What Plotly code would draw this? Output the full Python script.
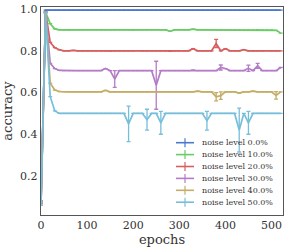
import plotly.graph_objects as go

epochs = list(range(0, 530, 10))  # 0..520

labels = ["noise level 0.0%", "noise level 10.0%", "noise level 20.0%",
          "noise level 30.0%", "noise level 40.0%", "noise level 50.0%"]
colors = ["#4878CF", "#6ACC65", "#D65F5F", "#B47CC7", "#C4AD66", "#77BEDB"]

def fill(start, base, overrides):
    vals = list(start) + [base] * (len(epochs) - len(start))
    for e, v in overrides.items():
        vals[epochs.index(e)] = v
    return vals

acc_0 = fill([0.08, 0.995], 0.995, {})
acc_10 = fill([0.08, 0.985, 0.93, 0.905], 0.90,
              {60: 0.899, 120: 0.901, 200: 0.899, 280: 0.894, 330: 0.904,
               400: 0.899, 470: 0.901, 510: 0.898, 520: 0.885})
acc_20 = fill([0.07, 0.985, 0.84, 0.815, 0.805], 0.80,
              {70: 0.802, 150: 0.799, 210: 0.801, 280: 0.798, 330: 0.81,
               380: 0.835, 400: 0.81, 440: 0.806, 490: 0.801})
acc_30 = fill([0.07, 0.985, 0.74, 0.715, 0.706], 0.705,
              {140: 0.715, 160: 0.665, 250: 0.635, 330: 0.708,
               390: 0.72, 400: 0.715, 450: 0.716, 470: 0.728, 520: 0.72})
acc_40 = fill([0.06, 0.985, 0.645, 0.612, 0.605], 0.603,
              {140: 0.61, 340: 0.607, 380: 0.58, 390: 0.585, 430: 0.597,
               460: 0.607, 510: 0.586})
acc_50 = fill([0.06, 0.98, 0.58, 0.512], 0.50,
              {190: 0.45, 230: 0.47, 260: 0.455, 360: 0.465, 430: 0.42,
               450: 0.455})

err_0 = fill([], 0.0, {})
err_10 = fill([], 0.0, {})
err_20 = fill([], 0.0, {380: 0.02})
err_30 = fill([], 0.0, {160: 0.04, 250: 0.115, 390: 0.012, 450: 0.015, 470: 0.012})
err_40 = fill([], 0.0, {380: 0.02, 390: 0.018, 510: 0.018})
err_50 = fill([], 0.0, {190: 0.085, 230: 0.05, 260: 0.055, 360: 0.045, 430: 0.105,
                        450: 0.055})

series = [acc_0, acc_10, acc_20, acc_30, acc_40, acc_50]
errors = [err_0, err_10, err_20, err_30, err_40, err_50]

fig = go.Figure()
for lab, col, ys, es in zip(labels, colors, series, errors):
    fig.add_trace(go.Scatter(
        x=epochs, y=ys, mode="lines", name=lab, showlegend=False,
        line=dict(color=col, width=1.7),
        error_y=dict(type="data", array=es, visible=True, color=col,
                     thickness=1.3, width=2),
    ))

font = "DejaVu Serif"
axis_common = dict(showgrid=False, zeroline=False, showline=True, linecolor="#555555",
                   linewidth=1.2, mirror=True, ticks="", automargin=False,
                   tickfont=dict(family=font, size=11, color="#333333"),
                   title_font=dict(family=font, size=13, color="#333333"))
fig.update_xaxes(range=[0, 525], tickvals=[0, 100, 200, 300, 400, 500],
                 title_text="epochs", title_standoff=2, **axis_common)
fig.update_yaxes(range=[0.013, 1.01], tickvals=[0.2, 0.4, 0.6, 0.8, 1.0],
                 ticktext=["0.2", "0.4", "0.6", "0.8", "1.0"],
                 title_text="accuracy", title_standoff=4, **axis_common)

# legend drawn as text + symbols, positioned in plot-area (paper) fractions
L, R, T, B = 41, 4, 7, 34
W, H = 287, 249
pw, ph = W - L - R, H - T - B
def px_x(px):
    return (px - L) / pw
def px_y(py):
    return (H - B - py) / ph

shapes = []
annotations = []
for i, (lab, col) in enumerate(zip(labels, colors)):
    yy = 142.7 + 11.9 * i
    shapes.append(dict(type="line", xref="paper", yref="paper",
                       x0=px_x(176), x1=px_x(194), y0=px_y(yy), y1=px_y(yy),
                       line=dict(color=col, width=1.6)))
    shapes.append(dict(type="line", xref="paper", yref="paper",
                       x0=px_x(185), x1=px_x(185), y0=px_y(yy - 4.5), y1=px_y(yy + 4.5),
                       line=dict(color=col, width=1.2)))
    annotations.append(dict(text=lab, xref="paper", yref="paper",
                            x=px_x(200), y=px_y(yy), xanchor="left", yanchor="middle",
                            showarrow=False,
                            font=dict(family=font, size=8, color="#333333")))

fig.update_layout(
    width=W, height=H,
    margin=dict(l=L, r=R, t=T, b=B, autoexpand=False),
    paper_bgcolor="white", plot_bgcolor="white",
    showlegend=False, hovermode=False,
    shapes=shapes, annotations=annotations,
)
fig.write_html("out.html", config={"displayModeBar": False, "staticPlot": True},
               post_script="document.body.style.margin='0';document.body.style.overflow='hidden';")
